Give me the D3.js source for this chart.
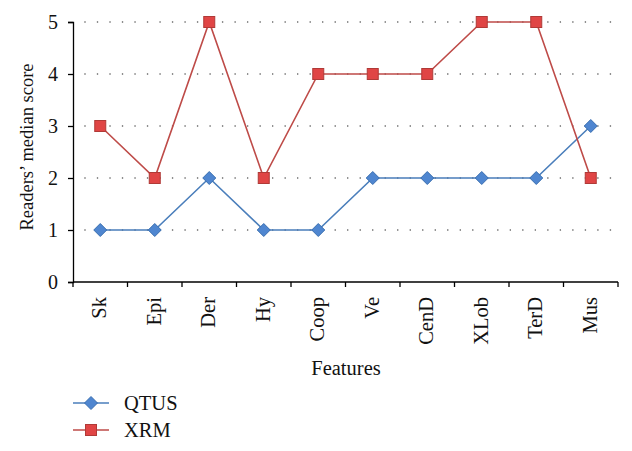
<!DOCTYPE html>
<html><head><meta charset="utf-8">
<script src="https://cdn.jsdelivr.net/npm/d3@7"></script>
<style>body{margin:0;background:#fff}svg{display:block}</style>
</head><body>
<script>
const categories = ["Sk","Epi","Der","Hy","Coop","Ve","CenD","XLob","TerD","Mus"];
const qtus = [1,1,2,1,1,2,2,2,2,3];
const xrm = [3,2,5,2,4,4,4,5,5,2];
const yTicks = [0,1,2,3,4,5];

const W=632,H=451;
const svg=d3.select("body").append("svg").attr("width",W).attr("height",H);
const font="'Liberation Serif', 'DejaVu Serif', serif";
const pL=73,pR=618,pT=22,pB=282;
const x=d3.scaleBand().domain(categories).range([pL,pR]);
const y=d3.scaleLinear().domain([0,5]).range([pB,pT]);

// grid
svg.append("g").selectAll("line").data(yTicks.filter(d=>d>0)).join("line")
  .attr("x1",pL+12).attr("x2",pR+4).attr("y1",d=>y(d)).attr("y2",d=>y(d))
  .attr("stroke","#555").attr("stroke-width",1.6).attr("stroke-dasharray","0.01 12.5").attr("stroke-linecap","round");

// axes
const yAxis=svg.append("g").attr("transform",`translate(${pL},0)`)
  .call(d3.axisLeft(y).tickValues(yTicks).tickSize(5).tickPadding(10).tickFormat(d3.format("d")));
yAxis.select(".domain").attr("stroke","#000").attr("stroke-width",1.3);
yAxis.selectAll(".tick line").attr("stroke","#000").attr("stroke-width",1.3);
yAxis.selectAll("text").attr("font-family",font).attr("font-size",20).attr("fill","#111");

const xTickPos=d3.range(categories.length+1).map(i=>pL+i*x.step());
const xg=svg.append("g");
xg.append("line").attr("x1",pL).attr("x2",pR).attr("y1",pB).attr("y2",pB).attr("stroke","#000").attr("stroke-width",1.3);
xg.selectAll("line.t").data(xTickPos).join("line").attr("class","t")
  .attr("x1",d=>d).attr("x2",d=>d).attr("y1",pB).attr("y2",pB+5).attr("stroke","#000").attr("stroke-width",1.3);
xg.selectAll("text").data(categories).join("text")
  .attr("transform",d=>`translate(${x(d)+x.bandwidth()/2+6},${pB+15}) rotate(-90)`)
  .attr("text-anchor","end").attr("font-family",font).attr("font-size",20.5).attr("fill","#111").text(d=>d);

svg.append("text").attr("transform",`translate(33,${(pT+pB)/2-5}) rotate(-90)`)
  .attr("text-anchor","middle").attr("font-family",font).attr("font-size",18.5).attr("fill","#111").text("Readers’ median score");
svg.append("text").attr("x",346).attr("y",375).attr("text-anchor","middle")
  .attr("font-family",font).attr("font-size",20.5).attr("fill","#111").text("Features");

const cx=d=>x(d)+x.bandwidth()/2;
const series=[
  {name:"QTUS",vals:qtus,stroke:"#4a7ebb",fill:"#4f86d0",mstroke:"#3a6fb0",shape:"diamond"},
  {name:"XRM",vals:xrm,stroke:"#be4b48",fill:"#e04545",mstroke:"#b03a37",shape:"square"}
];
const line=d3.line().x(d=>cx(d.c)).y(d=>y(d.v));
function marker(g,shape,px,py){
  if(shape==="diamond"){
    g.append("path").attr("d",`M${px},${py-6.5}L${px+6.5},${py}L${px},${py+6.5}L${px-6.5},${py}Z`);
  } else {
    g.append("rect").attr("x",px-5.5).attr("y",py-5.5).attr("width",11).attr("height",11);
  }
}
series.forEach(s=>{
  const pts=categories.map((c,i)=>({c,v:s.vals[i]}));
  svg.append("path").datum(pts).attr("d",line).attr("fill","none").attr("stroke",s.stroke).attr("stroke-width",1.6);
  const g=svg.append("g").attr("fill",s.fill).attr("stroke",s.mstroke).attr("stroke-width",1);
  pts.forEach(p=>marker(g,s.shape,cx(p.c),y(p.v)));
});

// legend
series.forEach((s,i)=>{
  const ly=403+i*27;
  svg.append("line").attr("x1",73).attr("x2",109).attr("y1",ly).attr("y2",ly).attr("stroke",s.stroke).attr("stroke-width",1.6);
  const g=svg.append("g").attr("fill",s.fill).attr("stroke",s.mstroke).attr("stroke-width",1);
  marker(g,s.shape,91,ly);
  svg.append("text").attr("x",124).attr("y",ly+7).attr("font-family",font).attr("font-size",20.5).attr("fill","#111").text(s.name);
});
</script>
</body></html>
